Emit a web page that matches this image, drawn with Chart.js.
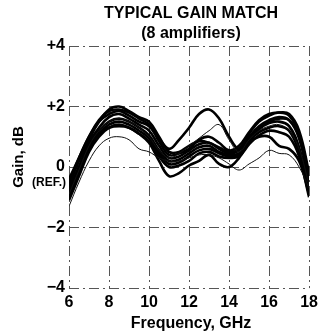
<!DOCTYPE html>
<html>
<head>
<meta charset="utf-8">
<script src="https://cdn.jsdelivr.net/npm/chart.js@4/dist/chart.umd.min.js"></script>
<style>
html,body{margin:0;padding:0;background:#fff;}
#wrap{width:323px;height:335px;position:relative;}
</style>
</head>
<body>
<div id="wrap"><canvas id="c" width="323" height="335"></canvas></div>
<script>
// ---- data ----
const titleLines = ['TYPICAL GAIN MATCH', '(8 amplifiers)'];
const xTitle = 'Frequency, GHz';
const yTitle = 'Gain, dB';
const refLabel = '(REF.)';
const xTickLabels = [6, 8, 10, 12, 14, 16, 18];
const yTickLabels = ['\u22124', '\u22122', '0', '+2', '+4'];
const yTickValues = [-4, -2, 0, 2, 4];

const freqs = [6, 6.5, 7, 7.5, 8, 8.5, 9, 9.5, 10, 10.5, 11, 11.5, 12, 12.5, 13, 13.5, 14, 14.5, 15, 15.5, 16, 16.5, 17, 17.5, 18];

const amp1 = [-0.6, 0.2, 0.9, 1.5, 1.9, 2.0, 1.85, 1.65, 1.5, 1.0, 0.5, 0.5, 0.7, 0.85, 0.8, 0.65, 0.5, 0.6, 1.1, 1.5, 1.7, 1.8, 1.75, 1.2, -0.2];
const amp2 = [-0.5, 0.3, 1.0, 1.5, 1.75, 1.85, 1.7, 1.5, 1.35, 0.95, 0.6, 0.9, 1.3, 1.75, 1.9, 1.6, 1.0, 0.6, 0.9, 1.3, 1.5, 1.6, 1.55, 1.0, -0.4];
const amp3 = [-0.8, 0.0, 0.8, 1.3, 1.65, 1.75, 1.6, 1.4, 1.2, 0.7, 0.3, 0.35, 0.55, 0.75, 0.8, 0.6, 0.45, 0.55, 1.0, 1.35, 1.55, 1.65, 1.55, 0.95, -0.5];
const amp4 = [-0.9, -0.1, 0.7, 1.2, 1.5, 1.6, 1.5, 1.3, 1.05, 0.55, 0.2, 0.25, 0.45, 0.65, 0.7, 0.5, 0.4, 0.45, 0.9, 1.25, 1.45, 1.5, 1.35, 0.65, -0.7];
const amp5 = [-1.0, -0.2, 0.6, 1.1, 1.4, 1.5, 1.4, 1.2, 0.95, 0.45, 0.1, 0.15, 0.35, 0.55, 0.6, 0.45, 0.35, 0.4, 0.85, 1.15, 1.3, 1.35, 1.2, 0.5, -0.8];
const amp6 = [-0.7, 0.0, 0.7, 1.1, 1.3, 1.35, 1.3, 1.1, 0.8, 0.2, -0.3, -0.2, 0.05, 0.2, 0.4, 0.1, 0.0, 0.3, 0.8, 1.0, 1.0, 0.7, 0.6, 0.2, -0.9];
const amp7 = [-1.1, -0.3, 0.5, 1.0, 1.3, 1.4, 1.3, 1.1, 0.85, 0.35, 0.0, 0.05, 0.2, 0.45, 0.5, 0.35, 0.3, 0.35, 0.75, 1.05, 1.2, 1.15, 1.0, 0.35, -1.0];
const amp8 = [-0.4, 0.3, 1.0, 1.55, 1.85, 1.9, 1.8, 1.6, 1.4, 0.85, 0.4, 0.45, 0.6, 0.9, 1.0, 0.8, 0.55, 0.7, 1.15, 1.55, 1.75, 1.8, 1.7, 1.1, -0.3];
const thin1 = [-1.3, -0.5, 0.2, 0.7, 0.95, 1.0, 0.9, 0.6, 0.5, 0.3, 0.2, 0.2, 0.3, 0.4, 0.4, 0.3, 0.1, -0.1, 0.1, 0.3, 0.55, 0.45, 0.4, 0.0, -0.7];
const thin2 = [-0.9, -0.1, 0.7, 1.2, 1.5, 1.6, 1.5, 1.3, 1.0, 0.55, 0.3, 0.45, 0.7, 0.95, 1.2, 1.4, 0.9, 0.5, 0.9, 1.2, 1.35, 1.4, 1.2, 0.6, -0.6];

const thick = [amp1, amp2, amp3, amp4, amp5, amp6, amp7, amp8];
const thin = [thin1, thin2];

function toPts(arr) { return arr.map((v, i) => ({x: freqs[i], y: v})); }

const datasets = [];
thin.forEach(s => datasets.push({data: toPts(s), borderColor: '#111', borderWidth: 1, pointRadius: 0, tension: 0.4, fill: false}));
thick.forEach(s => datasets.push({data: toPts(s), borderColor: '#000', borderWidth: 2.6, pointRadius: 0, tension: 0.4, fill: false}));

const FONT = '"Liberation Sans", Arial, Helvetica, sans-serif';

const textPlugin = {
  id: 'texts',
  afterDraw(chart) {
    const ctx = chart.ctx;
    const a = chart.chartArea;
    ctx.save();
    ctx.fillStyle = '#000';
    ctx.textAlign = 'center';
    ctx.textBaseline = 'middle';
    ctx.font = 'bold 16px ' + FONT;
    const cx = (a.left + a.right) / 2 + 2;
    ctx.fillText(titleLines[0], cx, 14);
    ctx.fillText(titleLines[1], cx, 34);
    // x title
    ctx.fillText(xTitle, cx, 324);
    // y title
    ctx.save();
    ctx.translate(19, 157);
    ctx.rotate(-Math.PI / 2);
    ctx.font = 'bold 15px ' + FONT;
    ctx.fillText(yTitle, 0, 0);
    ctx.restore();
    // REF label
    ctx.textAlign = 'right';
    ctx.font = 'bold 12px ' + FONT;
    const y0 = chart.scales.y.getPixelForValue(0);
    ctx.fillText(refLabel, 66, y0 + 16);
    ctx.restore();
  }
};

new Chart(document.getElementById('c'), {
  type: 'line',
  data: {datasets},
  options: {
    responsive: false,
    animation: false,
    layout: {padding: {top: 46, right: 11, left: 0, bottom: 0}},
    plugins: {legend: {display: false}, title: {display: false}, tooltip: {enabled: false}},
    scales: {
      x: {
        type: 'linear', min: 6, max: 18,
        afterFit(s) { s.height = 47; },
        afterBuildTicks(s) { s.ticks = xTickLabels.map(v => ({value: v})); },
        ticks: {color: '#000', font: {family: FONT, size: 16, weight: 'bold'}, padding: 5, maxRotation: 0,
                callback: v => String(v)},
        grid: {color: '#555', lineWidth: 1, drawTicks: false},
        border: {display: false, dash: [10, 4, 2, 4]}
      },
      y: {
        type: 'linear', min: -4, max: 4,
        afterFit(s) { s.width = 69; },
        afterBuildTicks(s) { s.ticks = yTickValues.map(v => ({value: v})); },
        ticks: {color: '#000', font: {family: FONT, size: 16, weight: 'bold'}, padding: 4,
                callback: v => yTickLabels[yTickValues.indexOf(v)]},
        grid: {color: '#555', lineWidth: 1, drawTicks: false},
        border: {display: false, dash: [10, 4, 2, 4]}
      }
    }
  },
  plugins: [textPlugin]
});
</script>
</body>
</html>
